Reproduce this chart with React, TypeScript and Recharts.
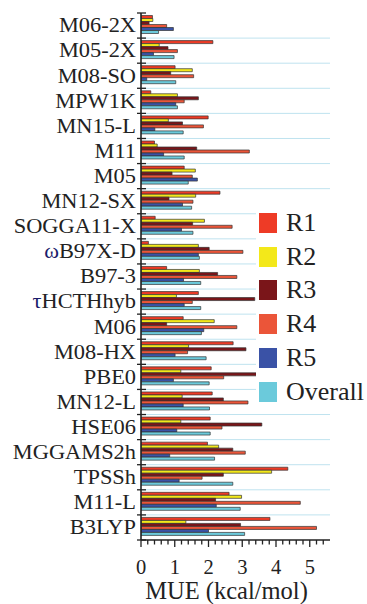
import React from 'react';
import { BarChart, Bar, XAxis, YAxis, CartesianGrid } from 'recharts';

const categories = [
  'M06-2X', 'M05-2X', 'M08-SO', 'MPW1K', 'MN15-L', 'M11', 'M05', 'MN12-SX',
  'SOGGA11-X', 'ωB97X-D', 'B97-3', 'τHCTHhyb', 'M06', 'M08-HX', 'PBE0',
  'MN12-L', 'HSE06', 'MGGAMS2h', 'TPSSh', 'M11-L', 'B3LYP',
];

const r1 = [0.34, 2.13, 1.01, 0.29, 1.99, 0.40, 1.28, 2.34, 0.42, 0.22, 0.76, 1.70, 1.25, 2.73, 2.08, 2.11, 2.05, 1.97, 4.35, 2.61, 3.82];
const r2 = [0.35, 0.54, 1.52, 1.08, 0.81, 0.48, 1.61, 1.62, 1.88, 1.70, 1.73, 1.05, 2.17, 1.41, 1.18, 1.22, 1.18, 2.30, 3.87, 2.98, 1.33];
const r3 = [0.24, 0.80, 0.88, 1.70, 1.23, 1.65, 0.92, 0.83, 1.53, 2.02, 2.27, 3.37, 0.76, 3.11, 3.42, 2.44, 3.58, 2.72, 2.44, 2.21, 2.95];
const r4 = [0.76, 1.08, 1.56, 1.28, 1.85, 3.21, 1.52, 1.54, 2.70, 3.02, 2.84, 1.52, 2.84, 1.38, 2.45, 3.17, 2.40, 3.09, 1.81, 4.72, 5.20];
const r5 = [0.96, 0.37, 0.17, 1.03, 0.41, 0.67, 1.67, 1.23, 1.20, 1.70, 1.26, 1.28, 1.86, 1.01, 0.96, 1.25, 1.06, 0.85, 1.13, 2.23, 2.00];
const overall = [0.52, 0.98, 1.03, 1.08, 1.25, 1.28, 1.40, 1.50, 1.54, 1.73, 1.77, 1.77, 1.79, 1.93, 2.02, 2.03, 2.05, 2.18, 2.72, 2.94, 3.07];

const seriesNames = ['R1', 'R2', 'R3', 'R4', 'R5', 'Overall'];
const seriesColors = ['#EE3B26', '#F3E81A', '#7A1519', '#EB5539', '#3A52A6', '#6BCADB'];
const seriesValues = [r1, r2, r3, r4, r5, overall];

const xTicks = [0, 0.2, 0.4, 0.6, 0.8, 1, 1.2, 1.4, 1.6, 1.8, 2, 2.2, 2.4, 2.6, 2.8, 3, 3.2, 3.4, 3.6, 3.8, 4, 4.2, 4.4, 4.6, 4.8, 5, 5.2, 5.4];
const xDomain = [0, 5.6];
const xLabel = 'MUE (kcal/mol)';

const data = categories.map((name, i) => {
  const row: Record<string, string | number> = { name };
  seriesNames.forEach((s, j) => {
    row[s] = seriesValues[j][i];
  });
  return row;
});

const FONT = "'Liberation Serif', Tinos, 'Times New Roman', Times, 'Nimbus Roman', serif";
const INK = '#222';

const XTick = (props: any) => {
  const { x, y, payload } = props;
  const v = payload.value;
  const isMajor = Math.abs(v - Math.round(v)) < 1e-6;
  return (
    <g>
      <line x1={x} x2={x} y1={y} y2={y + (isMajor ? 7 : 4.5)} stroke={INK} strokeWidth={1.3} />
      {isMajor && (
        <text x={x} y={y + 34} textAnchor="middle" style={{ fontFamily: FONT }} fontSize={20.5} fill={INK}>
          {Math.round(v)}
        </text>
      )}
    </g>
  );
};

const YTick = (props: any) => {
  const { x, y, payload, index } = props;
  const half = payload && typeof payload.offset === 'number' && payload.offset > 0 ? payload.offset : 12.55;
  const label: string = String(payload.value);
  const first = label.charAt(0);
  const greek = first === 'ω' || first === 'τ';
  const ax = x + 5;
  return (
    <g>
      <line x1={ax - 4} x2={ax + 5} y1={y - half} y2={y - half} stroke={INK} strokeWidth={1.3} />
      {index === categories.length - 1 && (
        <line x1={ax - 4} x2={ax + 5} y1={y + half} y2={y + half} stroke={INK} strokeWidth={1.3} />
      )}
      <g transform={`translate(${x},${y}) scale(1.12,1)`}>
        <text x={0} y={0} dy="0.34em" textAnchor="end" style={{ fontFamily: FONT }} fontSize={20} fill={INK}>
          {greek ? (
            <>
              <tspan fill="#1C1C6B">{first}</tspan>
              <tspan>{label.slice(1)}</tspan>
            </>
          ) : (
            label
          )}
        </text>
      </g>
    </g>
  );
};

const gridGenerator = (props: any) => {
  const { offset } = props;
  const n = categories.length;
  const step = offset.height / n;
  const lines: number[] = [];
  for (let i = 1; i < n; i++) lines.push(offset.top + i * step);
  return lines;
};

const XLabel = (props: any) => {
  const vb = props.viewBox || {};
  return (
    <text
      x={vb.x + vb.width / 2 - 9}
      y={vb.y + 59}
      textAnchor="middle"
      style={{ fontFamily: FONT }}
      fontSize={24.5}
      fill={INK}
    >
      {xLabel}
    </text>
  );
};

export default function App() {
  return (
    <div style={{ position: 'absolute', left: 0, top: 0, width: 367, height: 604, background: '#fff' }}>
      <BarChart
        width={367}
        height={604}
        data={data}
        layout="vertical"
        margin={{ top: 13, right: 37, bottom: 0, left: 0 }}
        barCategoryGap="10%"
        barGap={0}
      >
        <CartesianGrid
          vertical={false}
          horizontal
          stroke="#BFE3EF"
          strokeWidth={1}
          horizontalCoordinatesGenerator={gridGenerator}
        />
        <XAxis
          type="number"
          domain={xDomain}
          ticks={xTicks}
          interval={0}
          allowDataOverflow
          tick={<XTick />}
          tickLine={false}
          tickSize={0}
          tickMargin={0}
          height={64}
          axisLine={{ stroke: INK, strokeWidth: 1.6 }}
          label={<XLabel />}
        />
        <YAxis
          type="category"
          dataKey="name"
          width={141}
          interval={0}
          tick={<YTick />}
          tickLine={false}
          tickSize={0}
          tickMargin={5}
          axisLine={{ stroke: INK, strokeWidth: 1.6 }}
        />
        {seriesNames.map((s, j) => (
          <Bar
            key={s}
            dataKey={s}
            fill={seriesColors[j]}
            stroke="#333"
            strokeWidth={0.7}
            isAnimationActive={false}
          />
        ))}
      </BarChart>
      <div
        style={{
          position: 'absolute',
          left: 256,
          top: 206,
          width: 111,
          height: 203,
          background: '#fff',
        }}
      >
        {seriesNames.map((s, j) => (
          <div
            key={s}
            style={{ height: 33.8, display: 'flex', alignItems: 'center' }}
          >
            <div style={{ width: 18, height: 20, marginLeft: 3, background: seriesColors[j] }} />
            <span
              style={{
                marginLeft: 9,
                fontFamily: FONT,
                fontSize: 26,
                color: INK,
                lineHeight: '26px',
              }}
            >
              {s}
            </span>
          </div>
        ))}
      </div>
    </div>
  );
}
